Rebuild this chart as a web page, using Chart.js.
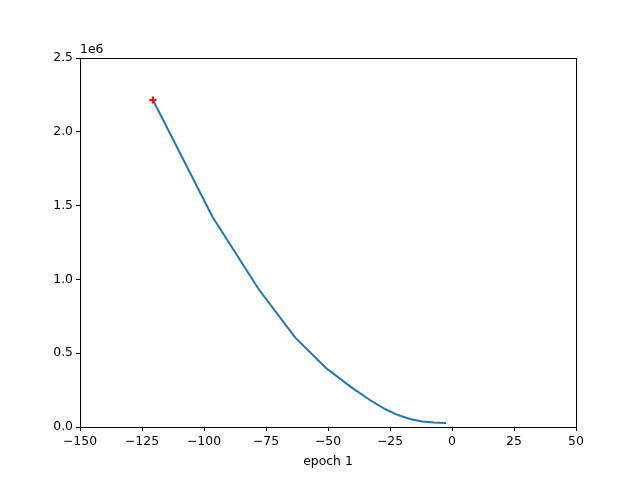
<!DOCTYPE html>
<html>
<head>
<meta charset="utf-8">
<script src="https://cdn.jsdelivr.net/npm/chart.js@4"></script>
<style>
  html, body { margin: 0; padding: 0; background: #fff; }
  #wrap { width: 640px; height: 480px; }
</style>
</head>
<body>
<div id="wrap"><canvas id="container" width="640" height="480"></canvas></div>
<script>
// loss curve
const epochX = [-120.6, -96.6, -78.0, -63.2, -50.8, -40.7, -33.1, -27.0, -21.8, -16.9, -12.1, -7.3, -2.4];
const lossY = [2215000, 1425000, 935000, 605000, 400000, 270000, 183000, 122000, 81000, 54000, 37000, 30000, 27000];
const startX = [-120.6];
const startY = [2215000];
const xTicks = [-150, -125, -100, -75, -50, -25, 0, 25, 50];
const yTicks = [0, 500000, 1000000, 1500000, 2000000, 2500000];

const FONT = "'DejaVu Sans', sans-serif";
const FS = 12.4;
const minus = (s) => String(s).replace("-", "\u2212");

// matplotlib-like box round the plot + offset text "1e6"
const frame = {
  id: "frame",
  afterDraw(chart) {
    const { ctx, chartArea: a } = chart;
    ctx.save();
    ctx.strokeStyle = "#000";
    ctx.lineWidth = 1;
    ctx.strokeRect(Math.round(a.left) + 0.5, Math.round(a.top) + 0.5,
      Math.round(a.right - a.left), Math.round(a.bottom - a.top));
    ctx.fillStyle = "#000";
    ctx.font = FS + "px " + FONT;
    ctx.textAlign = "left";
    ctx.textBaseline = "bottom";
    ctx.fillText("1e6", a.left, a.top - 2);
    ctx.restore();
  },
};

const tickGrid = {
  drawOnChartArea: false,
  drawTicks: true,
  tickLength: 4,
  tickColor: "#000",
  color: "#000",
};

const chart = new Chart(document.getElementById("container"), {
  type: "scatter",
  data: {
    datasets: [
      {
        data: startX.map((x, i) => ({ x, y: startY[i] })),
        pointStyle: "cross",
        pointRadius: 3.5,
        pointBorderWidth: 2,
        borderColor: "#ff0000",
        backgroundColor: "#ff0000",
        showLine: false,
        order: 0,
      },
      {
        data: epochX.map((x, i) => ({ x, y: lossY[i] })),
        showLine: true,
        borderColor: "#1f77b4",
        borderWidth: 2,
        pointRadius: 0,
        tension: 0,
        order: 1,
      },
    ],
  },
  options: {
    responsive: false,
    animation: false,
    layout: { padding: { top: 58, right: 64, left: 0, bottom: 0 } },
    plugins: { legend: { display: false }, tooltip: { enabled: false } },
    scales: {
      x: {
        type: "linear",
        min: -150,
        max: 50,
        afterBuildTicks: (s) => { s.ticks = xTicks.map((v) => ({ value: v })); },
        afterFit: (s) => { s.height = 53; },
        border: { display: false },
        grid: tickGrid,
        ticks: {
          color: "#000",
          padding: 3,
          maxRotation: 0,
          font: { family: FONT, size: FS },
          callback: (v) => minus(v),
        },
        title: {
          display: true,
          text: "epoch 1",
          color: "#000",
          font: { family: FONT, size: FS },
          padding: { top: 0, bottom: 11 },
        },
      },
      y: {
        type: "linear",
        min: 0,
        max: 2500000,
        afterBuildTicks: (s) => { s.ticks = yTicks.map((v) => ({ value: v })); },
        afterFit: (s) => { s.width = 80; },
        border: { display: false },
        grid: tickGrid,
        ticks: {
          color: "#000",
          padding: 3,
          font: { family: FONT, size: FS },
          callback: (v) => (v / 1e6).toFixed(1),
        },
      },
    },
  },
  plugins: [frame],
});
</script>
</body>
</html>
